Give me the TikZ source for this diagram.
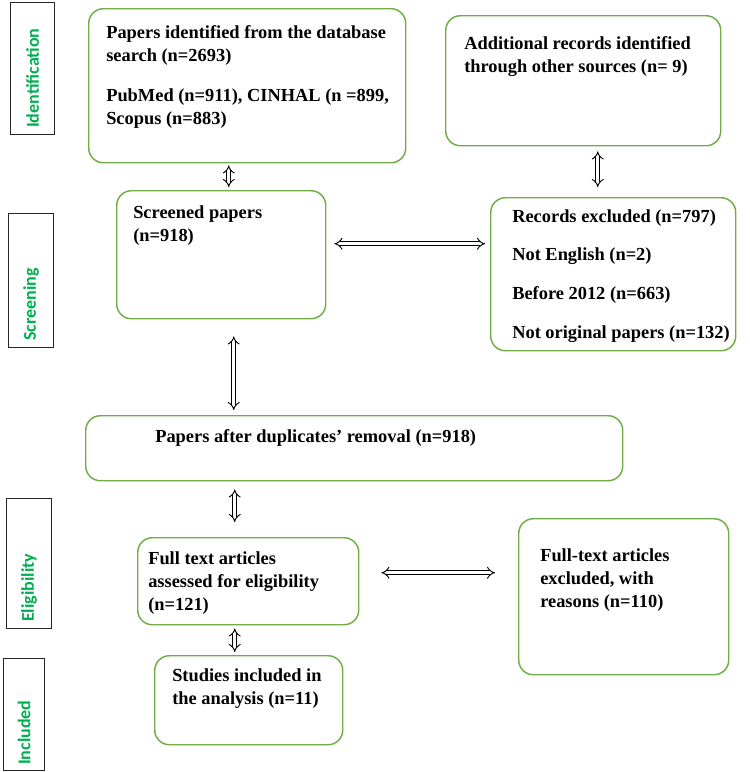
\documentclass[tikz,border=0pt]{standalone}
\usepackage{fontspec}
\setmainfont{Liberation Serif}
\newfontfamily\stagefont{Carlito}
\usetikzlibrary{arrows.meta}
\definecolor{boxgreen}{HTML}{70AD47}
\definecolor{stagegreen}{HTML}{00B050}

\begin{document}
\begin{tikzpicture}[x=0.75pt, y=-0.75pt,
    box/.style={draw=boxgreen, line width=1.1pt, rounded corners=11pt, inner sep=0pt, anchor=north west},
    stagebox/.style={draw=black!85, line width=0.9pt, inner sep=0pt, anchor=north west},
    stagetext/.style={rotate=90, anchor=west, inner sep=0pt, text=stagegreen, font=\stagefont\fontsize{13.5}{15}\selectfont\bfseries},
    txt/.style={anchor=north west, inner sep=0pt, align=left, font=\fontsize{13.8}{17.25}\selectfont\bfseries},
    link/.style={double=white, double distance=2.4pt, line width=0.7pt, {Implies}-{Implies}}]
    \useasboundingbox (0,0) rectangle (750,772);

    \node[stagebox, minimum width=33pt, minimum height=99pt] (id) at (10,2) {};
    \node[stagebox, minimum width=33.75pt, minimum height=100.5pt] (scr) at (8,213) {};
    \node[stagebox, minimum width=33.75pt, minimum height=97.5pt] (elg) at (6,498) {};
    \node[stagebox, minimum width=30.75pt, minimum height=84pt] (inc) at (3,658) {};
    \node[stagetext] (idt) at ([shift={(0,-7)}]id.south) {Identification};
    \node[stagetext] (scrt) at ([shift={(0,-7)}]scr.south) {Screening};
    \node[stagetext] (elgt) at ([shift={(0,-7)}]elg.south) {Eligibility};
    \node[stagetext] (inct) at ([shift={(0,-6)}]inc.south) {Included};

    \node[box, minimum width=237.75pt, minimum height=115.5pt] (b1) at (88,8) {};
    \node[box, minimum width=206.25pt, minimum height=97.5pt] (b2) at (445,15) {};
    \node[box, minimum width=156.75pt, minimum height=96pt] (b3) at (116,190) {};
    \node[box, minimum width=183.75pt, minimum height=114.75pt] (b4) at (490,197) {};
    \node[box, minimum width=402.75pt, minimum height=48.75pt] (b5) at (85,415) {};
    \node[box, minimum width=165.75pt, minimum height=65.25pt] (b6) at (137,537) {};
    \node[box, minimum width=157.5pt, minimum height=117pt] (b7) at (518,518) {};
    \node[box, minimum width=141pt, minimum height=66.75pt] (b8) at (154,655) {};

    \node[txt] (t1) at (106,25) {Papers identified from the database\\ search (n=2693)\\[12.75pt] PubMed (n=911), CINHAL (n =899,\\ Scopus (n=883)};
    \node[txt] (t2) at (464,36) {Additional records identified\\ through other sources (n= 9)};
    \node[txt] (t3) at (133,205) {Screened papers\\ (n=918)};
    \node[txt] (t4) at (512,209) {Records excluded (n=797)\\[11.8pt] Not English (n=2)\\[11.8pt] Before 2012 (n=663)\\[11.8pt] Not original papers (n=132)};
    \node[txt] (t5) at (155,429) {Papers after duplicates’ removal (n=918)};
    \node[txt] (t6) at (148,551) {Full text articles\\ assessed for eligibility\\ (n=121)};
    \node[txt] (t7) at (540,548) {Full-text articles\\ excluded, with\\ reasons (n=110)};
    \node[txt] (t8) at (172,668) {Studies included in\\ the analysis (n=11)};

    \draw[link] ([shift={(-18.5,2)}]b1.south) -- ([shift={(7.5,-3)}]b3.north);
    \draw[link] ([shift={(14.5,5)}]b2.south) -- ([shift={(-15.5,-10)}]b4.north);
    \draw[link] ([shift={(8,-11)}]b3.east) -- ([shift={(-5,-30.5)}]b4.west);
    \draw[link] ([shift={(12.5,17)}]b3.south) -- ([shift={(-120.5,-5)}]b5.north);
    \draw[link] ([shift={(-119.5,8)}]b5.south) -- ([shift={(-13.5,-15)}]b6.north);
    \draw[link] ([shift={(22,-8.5)}]b6.east) -- ([shift={(-23,-24)}]b7.west);
    \draw[link] ([shift={(-13.5,3)}]b6.south) -- ([shift={(-14,-3)}]b8.north);
\end{tikzpicture}
\end{document}
